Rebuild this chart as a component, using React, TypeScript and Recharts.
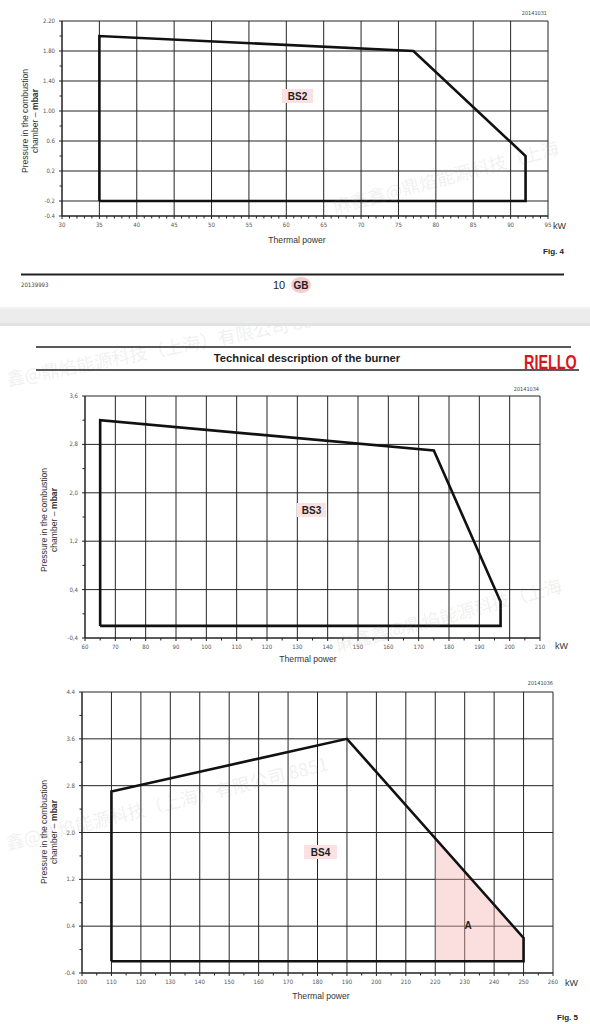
import React from 'react';
import { ComposedChart, Line, Area, XAxis, YAxis, CartesianGrid } from 'recharts';

// Fig. 4 - BS2 working field
const bs2Power = [35, 35, 77, 92, 92, 35];
const bs2Pressure = [-0.2, 2.0, 1.8, 0.4, -0.2, -0.2];
const bs2XTicks = [30, 35, 40, 45, 50, 55, 60, 65, 70, 75, 80, 85, 90, 95];
const bs2YTicks = [-0.4, -0.2, 0.2, 0.6, 1.0, 1.4, 1.8, 2.2];
const bs2YLabels = ['-0.4', '-0.2', '0.2', '0.6', '1.00', '1.40', '1.80', '2.20'];

// Fig. 5 - BS3 working field
const bs3Power = [65, 65, 175, 197, 197, 65];
const bs3Pressure = [-0.2, 3.2, 2.7, 0.2, -0.2, -0.2];
const bs3XTicks = [60, 70, 80, 90, 100, 110, 120, 130, 140, 150, 160, 170, 180, 190, 200, 210];
const bs3YTicks = [-0.4, 0.4, 1.2, 2.0, 2.8, 3.6];
const bs3YLabels = ['-0,4', '0,4', '1,2', '2,0', '2,8', '3,6'];

// Fig. 5 - BS4 working field + zone A
const bs4Power = [110, 110, 190, 250, 250, 110];
const bs4Pressure = [-0.2, 2.7, 3.6, 0.2, -0.2, -0.2];
const zoneAPower = [220, 250];
const zoneAPressure = [1.9, 0.2];
const zoneABase = -0.2;
const bs4XTicks = [100, 110, 120, 130, 140, 150, 160, 170, 180, 190, 200, 210, 220, 230, 240, 250, 260];
const bs4YTicks = [-0.4, 0.4, 1.2, 2.0, 2.8, 3.6, 4.4];
const bs4YLabels = ['-0.4', '0.4', '1.2', '2.0', '2.8', '3.6', '4.4'];

// watermark pieces as they show on the page
const markHead = '麻鑫鑫@鼎焰能源科技（上海';
const markTail = '鑫@鼎焰能源科技（上海）有限公司 8851';

const TICK_FONT = "'Liberation Sans Narrow', 'DejaVu Sans Condensed', sans-serif";
const TEXT_FONT = "'Liberation Sans', Arial, sans-serif";

type Pt = { x: number; y: number };
const toPoints = (xs: number[], ys: number[]): Pt[] => xs.map((x, i) => ({ x, y: ys[i] }));

// major ticks plus the small unlabelled ones in between
const withMinor = (major: number[], step: number) => {
  const out = [...major];
  for (let v = major[0]; v <= major[major.length - 1] + 1e-9; v += step) out.push(Math.round(v * 100) / 100);
  return Array.from(new Set(out)).sort((a, b) => a - b);
};
const findMajor = (v: number, list: number[]) => list.findIndex((t) => Math.abs(t - v) < 1e-6);

interface EnvelopeProps {
  top: number;
  height: number;
  plot: { left: number; right: number; top: number; bottom: number };
  xTicks: number[];
  xStep: number;
  yTicks: number[];
  yStep: number;
  yLabels: string[];
  outline: Pt[];
  zone?: Pt[];
}

const Envelope = ({ top, height, plot, xTicks, xStep, yTicks, yStep, yLabels, outline, zone }: EnvelopeProps) => {
  const xDomain: [number, number] = [xTicks[0], xTicks[xTicks.length - 1]];
  const yDomain: [number, number] = [yTicks[0], yTicks[yTicks.length - 1]];

  const XTick = ({ x, y, payload }: any) => {
    const major = findMajor(payload.value, xTicks) >= 0;
    return (
      <g>
        <line x1={x} x2={x} y1={y} y2={y + (major ? 3 : 2.5)} stroke="#222" strokeWidth={1} />
        {major && (
          <text x={x} y={y + 11} textAnchor="middle" fontSize={6} fill="#555" fontFamily={TICK_FONT}>
            {payload.value}
          </text>
        )}
      </g>
    );
  };

  const YTick = ({ x, y, payload }: any) => {
    const idx = findMajor(payload.value, yTicks);
    return (
      <g>
        <line x1={x - (idx >= 0 ? 3 : 2.5)} x2={x} y1={y} y2={y} stroke="#222" strokeWidth={1} />
        {idx >= 0 && (
          <text x={x - 7} y={y + 2} textAnchor="end" fontSize={6} fill="#555" fontFamily={TICK_FONT}>
            {yLabels[idx]}
          </text>
        )}
      </g>
    );
  };

  return (
    <div style={{ position: 'absolute', left: 0, top, width: 590, height }}>
      <ComposedChart
        width={590}
        height={height}
        margin={{ top: plot.top - top, right: 590 - plot.right, bottom: height - (plot.bottom - top) - 16, left: 0 }}
      >
        <CartesianGrid stroke="#242424" strokeWidth={1} verticalValues={xTicks} horizontalValues={yTicks} />
        <XAxis
          type="number"
          dataKey="x"
          domain={xDomain}
          ticks={withMinor(xTicks, xStep)}
          interval={0}
          allowDataOverflow
          tickSize={0}
          tickMargin={0}
          tickLine={false}
          tick={XTick}
          axisLine={{ stroke: '#222', strokeWidth: 1 }}
          height={16}
        />
        <YAxis
          type="number"
          domain={yDomain}
          ticks={withMinor(yTicks, yStep)}
          interval={0}
          allowDataOverflow
          tickSize={0}
          tickMargin={0}
          tickLine={false}
          tick={YTick}
          axisLine={{ stroke: '#222', strokeWidth: 1 }}
          width={plot.left}
        />
        {zone && (
          <Area
            data={zone}
            dataKey="y"
            type="linear"
            baseValue={zoneABase}
            stroke="none"
            fill="#f5b0b0"
            fillOpacity={0.4}
            isAnimationActive={false}
          />
        )}
        <Line
          data={outline}
          dataKey="y"
          type="linear"
          stroke="#111"
          strokeWidth={2.6}
          dot={false}
          isAnimationActive={false}
        />
      </ComposedChart>
    </div>
  );
};

const AxisTitle = ({ cx, cy }: { cx: number; cy: number }) => (
  <text transform={`rotate(-90, ${cx}, ${cy})`} fontFamily={TEXT_FONT} fontSize={8.6} fill="#333" textAnchor="middle">
    <tspan x={cx} y={cy - 5}>Pressure in the combustion</tspan>
    <tspan x={cx} y={cy + 5}>
      chamber – <tspan fontWeight="bold">mbar</tspan>
    </tspan>
  </text>
);

const Tag = ({ x, y, w, label }: { x: number; y: number; w: number; label: string }) => (
  <g>
    <rect x={x} y={y} width={w} height={14} fill="#fbe1e1" />
    <text x={x + w / 2} y={y + 10.5} textAnchor="middle" fontFamily={TEXT_FONT} fontWeight="bold" fontSize={10} fill="#222">
      {label}
    </text>
  </g>
);

const Mark = ({ x, y, angle, text }: { x: number; y: number; angle: number; text: string }) => (
  <text
    x={x}
    y={y}
    transform={`rotate(${angle}, ${x}, ${y})`}
    fontFamily="'Noto Sans CJK SC', sans-serif"
    fontSize={18}
    fill="#8a8a8a"
    fillOpacity={0.14}
  >
    {text}
  </text>
);

export default function App() {
  return (
    <div style={{ position: 'absolute', left: 0, top: 0, width: 590, height: 1024, background: '#fff', overflow: 'hidden' }}>
      <Envelope
        top={0}
        height={240}
        plot={{ left: 62, right: 548, top: 21, bottom: 216 }}
        xTicks={bs2XTicks}
        xStep={1}
        yTicks={bs2YTicks}
        yStep={0.2}
        yLabels={bs2YLabels}
        outline={toPoints(bs2Power, bs2Pressure)}
      />
      <Envelope
        top={380}
        height={280}
        plot={{ left: 85, right: 540, top: 396, bottom: 638 }}
        xTicks={bs3XTicks}
        xStep={5}
        yTicks={bs3YTicks}
        yStep={0.4}
        yLabels={bs3YLabels}
        outline={toPoints(bs3Power, bs3Pressure)}
      />
      <Envelope
        top={680}
        height={320}
        plot={{ left: 82, right: 553, top: 692, bottom: 973 }}
        xTicks={bs4XTicks}
        xStep={5}
        yTicks={bs4YTicks}
        yStep={0.4}
        yLabels={bs4YLabels}
        outline={toPoints(bs4Power, bs4Pressure)}
        zone={toPoints(zoneAPower, zoneAPressure)}
      />

      <svg width={590} height={1024} style={{ position: 'absolute', left: 0, top: 0, pointerEvents: 'none' }}>
        {/* watermarks */}
        <Mark x={335} y={214} angle={-15} text={markHead} />
        <Mark x={8} y={386} angle={-11} text={markTail} />
        <Mark x={338} y={652} angle={-15} text={markHead} />
        <Mark x={8} y={850} angle={-14} text={markTail} />

        {/* page 1 bottom */}
        <text x={547} y={15} textAnchor="end" fontFamily={TICK_FONT} fontSize={5.5} fill="#444">20141031</text>
        <Tag x={282} y={89} w={31} label="BS2" />
        <AxisTitle cx={33} cy={121} />
        <text x={553} y={229} fontFamily={TEXT_FONT} fontSize={9} fill="#333">kW</text>
        <text x={297} y={243} textAnchor="middle" fontFamily={TEXT_FONT} fontSize={8.6} fill="#333">Thermal power</text>
        <text x={564} y={254} textAnchor="end" fontFamily={TEXT_FONT} fontWeight="bold" fontSize={8} fill="#222">Fig. 4</text>
        <line x1={21} x2={564} y1={274.5} y2={274.5} stroke="#222" strokeWidth={1.8} />
        <text x={21} y={287} fontFamily={TICK_FONT} fontSize={6} fill="#444">20139993</text>
        <text x={273} y={289} fontFamily={TEXT_FONT} fontSize={11} fill="#222">10</text>
        <ellipse cx={301} cy={285} rx={10} ry={8} fill="#f7cccc" />
        <text x={301} y={289} textAnchor="middle" fontFamily={TEXT_FONT} fontWeight="bold" fontSize={10} fill="#222">GB</text>

        {/* gap between pages */}
        <rect x={0} y={307} width={590} height={19} fill="#ececec" />
        <rect x={0} y={307} width={590} height={2} fill="#f3f3f3" />
        <rect x={0} y={323} width={590} height={3} fill="#e2e2e2" />

        {/* page 2 header */}
        <line x1={36} x2={571} y1={347} y2={347} stroke="#222" strokeWidth={1.6} />
        <line x1={36} x2={579} y1={370} y2={370} stroke="#222" strokeWidth={1.6} />
        <text x={307} y={362} textAnchor="middle" fontFamily={TEXT_FONT} fontWeight="bold" fontSize={11.2} fill="#222">
          Technical description of the burner
        </text>
        <text
          x={0}
          y={0}
          transform="translate(524, 368.5) scale(0.72, 1)"
          fontFamily={TEXT_FONT}
          fontWeight="bold"
          fontSize={20}
          fill="#d8141c"
        >
          RIELLO
        </text>

        {/* BS3 */}
        <text x={539} y={391} textAnchor="end" fontFamily={TICK_FONT} fontSize={5.5} fill="#444">20141034</text>
        <Tag x={297} y={503} w={29} label="BS3" />
        <AxisTitle cx={52} cy={520} />
        <text x={555} y={649} fontFamily={TEXT_FONT} fontSize={9} fill="#333">kW</text>
        <text x={308} y={662} textAnchor="middle" fontFamily={TEXT_FONT} fontSize={8.6} fill="#333">Thermal power</text>

        {/* BS4 */}
        <text x={553} y={685} textAnchor="end" fontFamily={TICK_FONT} fontSize={5.5} fill="#444">20141036</text>
        <Tag x={304} y={845} w={33} label="BS4" />
        <text x={468} y={929} textAnchor="middle" fontFamily={TEXT_FONT} fontWeight="bold" fontSize={10} fill="#222">A</text>
        <AxisTitle cx={52} cy={832} />
        <text x={565} y={986} fontFamily={TEXT_FONT} fontSize={9} fill="#333">kW</text>
        <text x={321} y={999} textAnchor="middle" fontFamily={TEXT_FONT} fontSize={8.6} fill="#333">Thermal power</text>
        <text x={578} y={1020} textAnchor="end" fontFamily={TEXT_FONT} fontWeight="bold" fontSize={8} fill="#222">Fig. 5</text>
      </svg>
    </div>
  );
}
